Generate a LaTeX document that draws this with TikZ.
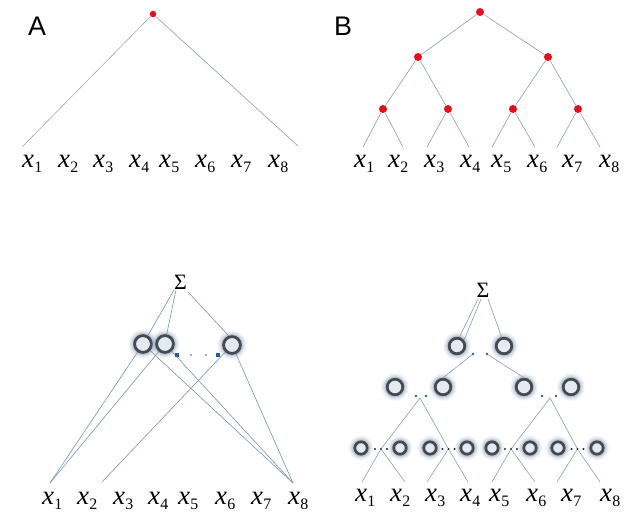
\documentclass[tikz,border=0pt]{standalone}
\usepackage{fontspec}
\setmainfont{Liberation Serif}
\newfontfamily\panelfont{Liberation Sans}
\definecolor{linec}{HTML}{8C9DB0}
\definecolor{linecc}{HTML}{7A92AE}
\definecolor{dotred}{HTML}{E3101E}
\definecolor{ringc}{HTML}{454B53}
\definecolor{ringin}{HTML}{E4EAF0}
\definecolor{halo}{HTML}{8FA2B8}
\definecolor{sqblue}{HTML}{2A5A9A}
\definecolor{dotgray}{HTML}{8090A0}
\newcommand\xlab[1]{\textit{x}\kern0.3bp\raisebox{-5bp}{\fontsize{16}{18}\selectfont #1}}
\begin{document}
\begin{tikzpicture}[x=1bp,y=-1bp,
  edge/.style={draw=linec,line width=0.6bp},
  cedge/.style={draw=linecc,line width=0.6bp},
  reddot/.style={circle,fill=dotred,inner sep=0pt,minimum size=8bp},
  ring/.style={circle,draw=ringc,line width=2.8bp,fill=ringin,inner sep=0pt},
  lbl/.style={anchor=base west,inner sep=0pt,font=\fontsize{27}{30}\selectfont},
  sigma/.style={inner sep=0pt,font=\fontsize{22}{24}\selectfont},
  panel/.style={inner sep=0pt,font=\panelfont\fontsize{27}{30}\selectfont},
  bdot/.style={circle,fill=sqblue,inner sep=0pt,minimum size=2.6bp},
  kdot/.style={circle,fill=black!85,inner sep=0pt,minimum size=2.4bp},
  gdot/.style={circle,fill=dotgray,inner sep=0pt,minimum size=2.2bp},
  sq/.style={rectangle,fill=sqblue,inner sep=0pt,minimum size=3.2bp}
]
\useasboundingbox (0,0) rectangle (641,516);
\newcommand\ringat[4]{%
  \pgfmathsetmacro\rd{2*(#4-1.4)}%
  \pgfmathsetmacro\ha{#4+4.5}%
  \pgfmathsetmacro\hb{#4+2.8}%
  \pgfmathsetmacro\hc{#4+1.3}%
  \fill[halo,opacity=0.14] (#2,#3) circle (\ha bp);
  \fill[halo,opacity=0.24] (#2,#3) circle (\hb bp);
  \fill[halo,opacity=0.36] (#2,#3) circle (\hc bp);
  \node[ring,minimum size=\rd bp] (#1) at (#2,#3) {};
}

% ---------------- Panel A ----------------
\node[panel] (pA) at (37,26) {A};
\node[reddot,minimum size=6.5bp] (a0) at (153,14) {};
\coordinate (al1) at (22,147);
\coordinate (al8) at (298,146);
\draw[edge,draw=gray!70] (a0) -- (al1);
\draw[edge] (a0) -- (al8);
\foreach \i/\xc in {1/28,2/64,3/99,4/135,5/165,6/201,7/237,8/274}
  \node[lbl] (ax\i) at (\xc-6,168) {\xlab{\i}};

% ---------------- Panel B ----------------
\node[panel] (pB) at (343,26) {B};
\node[reddot] (b0) at (480,12) {};
\node[reddot] (b1) at (418,57) {};
\node[reddot] (b2) at (548,57) {};
\node[reddot] (b3) at (383,109) {};
\node[reddot] (b4) at (448,109) {};
\node[reddot] (b5) at (513,109) {};
\node[reddot] (b6) at (578,109) {};
\foreach \i/\xc in {1/363,2/403,3/427,4/469,5/492,6/535,7/557,8/600}
  \coordinate (bl\i) at (\xc,147);
\draw[edge] (b0) -- (b1);
\draw[edge] (b0) -- (b2);
\draw[edge] (b1) -- (b3);
\draw[edge] (b1) -- (b4);
\draw[edge] (b2) -- (b5);
\draw[edge] (b2) -- (b6);
\draw[edge] (b3) -- (bl1);
\draw[edge] (b3) -- (bl2);
\draw[edge] (b4) -- (bl3);
\draw[edge] (b4) -- (bl4);
\draw[edge] (b5) -- (bl5);
\draw[edge] (b5) -- (bl6);
\draw[edge] (b6) -- (bl7);
\draw[edge] (b6) -- (bl8);
\foreach \i/\xc in {1/360,2/394,3/430,4/466,5/497,6/533,7/568,8/605}
  \node[lbl] (bx\i) at (\xc-6,168) {\xlab{\i}};

% ---------------- Panel C ----------------
\node[sigma] (cS) at (180.5,282) {Σ};
\ringat{c1}{143}{344}{9.8}
\ringat{c2}{165}{344}{9.8}
\ringat{c3}{232}{345}{9.8}
\coordinate (cs1) at (174,290);
\coordinate (cs2) at (176,290);
\coordinate (cs3) at (188,292);
\coordinate (cl1) at (50,483);
\coordinate (cl2) at (102,482);
\coordinate (cl8) at (293,483);
\draw[cedge] (cs1) -- (c1.60);
\draw[cedge] (cs2) -- (c2.80);
\draw[cedge] (cs3) -- (c3.110);
\draw[cedge] (c1) -- (cl1);
\draw[cedge] (c2) -- (cl1);
\draw[cedge] (c1) -- (cl8);
\draw[cedge] (c2) -- (cl8);
\draw[cedge] (c3) -- (cl2);
\draw[cedge] (c3) -- (cl8);
\node[sq] (cq1) at (177,355) {};
\node[gdot] (cq2) at (191,355) {};
\node[gdot] (cq3) at (206,355) {};
\node[sq] (cq4) at (218,355) {};
\foreach \i/\xc in {1/48,2/83,3/119,4/154,5/184,6/221,7/257,8/294}
  \node[lbl] (cx\i) at (\xc-6,504) {\xlab{\i}};

% ---------------- Panel D ----------------
\node[sigma] (dS) at (483,290) {Σ};
\ringat{d1a}{457}{346}{9.2}
\ringat{d1b}{504}{346}{9.2}
\ringat{d2a}{395}{387}{9.2}
\ringat{d2b}{443}{387}{9.2}
\ringat{d2c}{524}{387}{9.2}
\ringat{d2d}{571}{387}{9.2}
\foreach \n/\xc in {a/361,b/400,c/430,d/467,e/492,f/530,g/558,h/597}
  {\ringat{d3\n}{\xc}{448}{7.6}}
\coordinate (ds1) at (478,299);
\coordinate (ds2) at (481,299);
\coordinate (ds3) at (488,299);
\draw[edge] (ds1) -- (d1a.75);
\draw[edge] (ds2) -- (d1a.40);
\draw[edge] (ds3) -- (d1b.105);
% level 1 dots
\node[bdot] (e1a) at (473,354) {};
\node[bdot] (e1b) at (487,354) {};
\draw[edge] (e1a) -- (d2b.north);
\draw[edge] (e1b) -- (d2c.north);
% level 2 dots
\node[bdot] (e2a) at (416,396) {};
\node[bdot] (e2b) at (426,396) {};
\node[bdot] (e2c) at (542,396) {};
\node[bdot] (e2d) at (556,396) {};
\coordinate (m2l) at (420,398);
\coordinate (m2r) at (550,398);
% level 3 dots
\foreach \k/\xc in {1/381,2/448.5,3/511,4/577.5}{
  \node[kdot] (k\k l) at (\xc-6,449) {};
  \node[kdot] (k\k m) at (\xc,449) {};
  \node[kdot] (k\k r) at (\xc+6,449) {};
}
\draw[edge] (m2l) -- (k1m);
\draw[edge] (m2l) -- (k2m);
\draw[edge] (m2r) -- (k3m);
\draw[edge] (m2r) -- (k4m);
\foreach \i/\xc in {1/362,2/405,3/427,4/468,5/492,6/535,7/557,8/600}
  \coordinate (dl\i) at (\xc,482);
\draw[edge] (k1m) -- (dl1);
\draw[edge] (k1m) -- (dl2);
\draw[edge] (k2m) -- (dl3);
\draw[edge] (k2m) -- (dl4);
\draw[edge] (k3m) -- (dl5);
\draw[edge] (k3m) -- (dl6);
\draw[edge] (k4m) -- (dl7);
\draw[edge] (k4m) -- (dl8);
\foreach \i/\xc in {1/361,2/396,3/431,4/466,5/495,6/532,7/567,8/606}
  \node[lbl] (dx\i) at (\xc-6,501) {\xlab{\i}};
\end{tikzpicture}
\end{document}
